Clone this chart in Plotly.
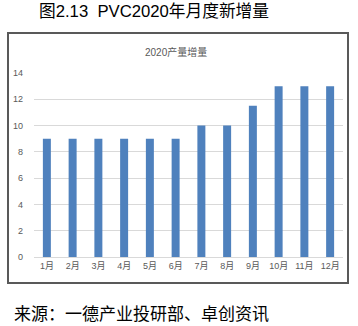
import plotly.graph_objects as go

# Monthly additions in 2020
months = ["1月", "2月", "3月", "4月", "5月", "6月", "7月", "8月", "9月", "10月", "11月", "12月"]
additions = [9, 9, 9, 9, 9, 9, 10, 10, 11.5, 13, 13, 13]
y_ticks = [0, 2, 4, 6, 8, 10, 12, 14]

W, H = 358, 326
L, R, T, B = 34, 15, 73, 69
pw, ph = W - L - R, H - T - B


def px_x(x):
    return (x - L) / pw


def px_y(y):
    return (H - B - y) / ph


cjk = "Arial, 'Liberation Sans', 'Noto Sans CJK SC', sans-serif"

fig = go.Figure(
    go.Bar(
        x=months,
        y=additions,
        marker=dict(color="#4F81BD", line=dict(width=0)),
        width=0.31,
    )
)

fig.update_layout(
    width=W,
    height=H,
    margin=dict(l=L, r=R, t=T, b=B),
    paper_bgcolor="white",
    plot_bgcolor="white",
    showlegend=False,
    font=dict(family=cjk, color="#595959", size=9),
    xaxis=dict(
        type="category",
        showgrid=False,
        showline=True,
        linecolor="#d9d9d9",
        linewidth=1,
        ticks="",
        tickfont=dict(size=9, color="#595959"),
        fixedrange=True,
    ),
    yaxis=dict(
        range=[0, 14],
        tickvals=y_ticks,
        showgrid=True,
        gridcolor="#d9d9d9",
        gridwidth=1,
        zeroline=False,
        showline=False,
        ticks="",
        ticklabelstandoff=10,
        tickfont=dict(size=9, color="#595959"),
        fixedrange=True,
    ),
    shapes=[
        dict(
            type="rect",
            xref="paper",
            yref="paper",
            x0=px_x(8),
            x1=px_x(348),
            y0=px_y(283),
            y1=px_y(33),
            line=dict(color="#595959", width=2),
            fillcolor="rgba(0,0,0,0)",
            layer="below",
        )
    ],
    annotations=[
        dict(
            text="图2.13  PVC2020年月度新增量",
            xref="paper",
            yref="paper",
            x=px_x(154),
            y=px_y(12),
            showarrow=False,
            font=dict(size=16.7, color="#000000", family=cjk),
            xanchor="center",
            yanchor="middle",
        ),
        dict(
            text="2020产量增量",
            xref="paper",
            yref="paper",
            x=px_x(176),
            y=px_y(52),
            showarrow=False,
            font=dict(size=10, color="#595959", family=cjk),
            xanchor="center",
            yanchor="middle",
        ),
        dict(
            text="来源：一德产业投研部、卓创资讯",
            xref="paper",
            yref="paper",
            x=px_x(12),
            y=px_y(312),
            showarrow=False,
            font=dict(size=17, color="#000000", family="'Noto Sans CJK SC', sans-serif"),
            xanchor="left",
            yanchor="middle",
        ),
    ],
)

fig.write_html("out.html", config={"displayModeBar": False})
